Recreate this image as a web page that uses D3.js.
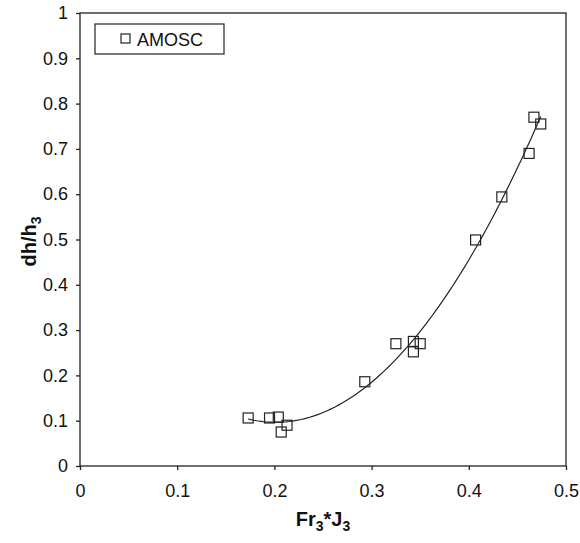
<!DOCTYPE html>
<meta charset="utf-8">
<style>
body { margin: 0; background: #fff; }
text { font-family: "Liberation Sans", Arial, sans-serif; fill: #111; }
.axis path, .axis line { stroke: #222; stroke-width: 1.3; }
.axis text { font-size: 18px; fill: #111; }
</style>
<body>
<script src="https://cdnjs.cloudflare.com/ajax/libs/d3/7.8.5/d3.min.js"></script>
<script>

var fr3j3 = [0.173, 0.195, 0.204, 0.207, 0.213, 0.293, 0.325, 0.343, 0.343, 0.350, 0.407, 0.434, 0.462, 0.467, 0.474];
var dhh3  = [0.106, 0.106, 0.108, 0.075, 0.090, 0.186, 0.270, 0.275, 0.252, 0.270, 0.499, 0.594, 0.690, 0.770, 0.755];
var xTicks = [0, 0.1, 0.2, 0.3, 0.4, 0.5];
var yTicks = [0, 0.1, 0.2, 0.3, 0.4, 0.5, 0.6, 0.7, 0.8, 0.9, 1];
var seriesName = "AMOSC";

var w = 580, h = 543;
var pLeft = 80, pRight = 566, pTop = 13, pBottom = 466;

var svg = d3.select("body").append("svg")
	.attr("width", w)
	.attr("height", h);

var x = d3.scaleLinear().domain([0, 0.5]).range([pLeft, pRight]);
var y = d3.scaleLinear().domain([0, 1]).range([pBottom, pTop]);

// frame
svg.append("rect")
	.attr("x", pLeft).attr("y", pTop)
	.attr("width", pRight - pLeft).attr("height", pBottom - pTop)
	.attr("fill", "none").attr("stroke", "#222").attr("stroke-width", 1.3);

svg.append("g")
	.attr("class", "axis")
	.attr("transform", "translate(0," + pBottom + ")")
	.call(d3.axisBottom(x).tickValues(xTicks).tickSize(4).tickPadding(14).tickFormat(d3.format("")))
	.call(function(g) { g.select(".domain").remove(); });

svg.append("g")
	.attr("class", "axis")
	.attr("transform", "translate(" + pLeft + ",0)")
	.call(d3.axisLeft(y).tickValues(yTicks).tickSize(4).tickPadding(8).tickFormat(d3.format("")))
	.call(function(g) { g.select(".domain").remove(); });

// polynomial (order 2) trendline, least squares on the points
function polyfit(xs, ys) {
	var s = [0, 0, 0, 0, 0], t = [0, 0, 0];
	for (var i = 0; i < xs.length; i++) {
		for (var k = 0; k < 5; k++) s[k] += Math.pow(xs[i], k);
		for (var k = 0; k < 3; k++) t[k] += ys[i] * Math.pow(xs[i], k);
	}
	var m = [[s[0], s[1], s[2], t[0]], [s[1], s[2], s[3], t[1]], [s[2], s[3], s[4], t[2]]];
	for (var c = 0; c < 3; c++) {
		for (var r = c + 1; r < 3; r++) {
			var f = m[r][c] / m[c][c];
			for (var j = c; j < 4; j++) m[r][j] -= f * m[c][j];
		}
	}
	var b = [0, 0, 0];
	for (var r = 2; r >= 0; r--) {
		var v = m[r][3];
		for (var j = r + 1; j < 3; j++) v -= m[r][j] * b[j];
		b[r] = v / m[r][r];
	}
	return b;
}
var coef = polyfit(fr3j3, dhh3);
var x0 = d3.min(fr3j3), x1 = d3.max(fr3j3);
var trend = d3.range(0, 101).map(function(i) {
	var xv = x0 + (x1 - x0) * i / 100;
	return [xv, coef[0] + coef[1] * xv + coef[2] * xv * xv];
});
svg.append("path")
	.datum(trend)
	.attr("fill", "none")
	.attr("stroke", "#222")
	.attr("stroke-width", 1.2)
	.attr("d", d3.line().x(function(d) { return x(d[0]); }).y(function(d) { return y(d[1]); }));

var pts = fr3j3.map(function(v, i) { return [v, dhh3[i]]; });
svg.selectAll("rect.pt")
	.data(pts)
	.enter()
	.append("rect")
	.attr("class", "pt")
	.attr("x", function(d) { return x(d[0]) - 5; })
	.attr("y", function(d) { return y(d[1]) - 5; })
	.attr("width", 10).attr("height", 10)
	.attr("fill", "none").attr("stroke", "#222").attr("stroke-width", 1.2);

// legend
var lg = svg.append("g");
lg.append("rect")
	.attr("x", 95).attr("y", 24).attr("width", 129).attr("height", 30)
	.attr("fill", "#fff").attr("stroke", "#222").attr("stroke-width", 1.2);
lg.append("rect")
	.attr("x", 121).attr("y", 34).attr("width", 9).attr("height", 9)
	.attr("fill", "none").attr("stroke", "#222").attr("stroke-width", 1.2);
lg.append("text")
	.attr("x", 137).attr("y", 45.5)
	.style("font-size", "18px")
	.text(seriesName);

// axis titles
var xt = svg.append("text")
	.attr("x", (pLeft + pRight) / 2).attr("y", 526)
	.attr("text-anchor", "middle")
	.style("font-size", "20px").style("font-weight", "bold");
xt.append("tspan").text("Fr");
xt.append("tspan").attr("dy", 5).style("font-size", "14px").text("3");
xt.append("tspan").attr("dy", -5).text("*J");
xt.append("tspan").attr("dy", 5).style("font-size", "14px").text("3");

var yt = svg.append("text")
	.attr("transform", "translate(36," + ((pTop + pBottom) / 2 + 2) + ") rotate(-90)")
	.attr("text-anchor", "middle")
	.style("font-size", "20px").style("font-weight", "bold");
yt.append("tspan").text("dh/h");
yt.append("tspan").attr("dy", 5).style("font-size", "14px").text("3");

</script>
</body>
